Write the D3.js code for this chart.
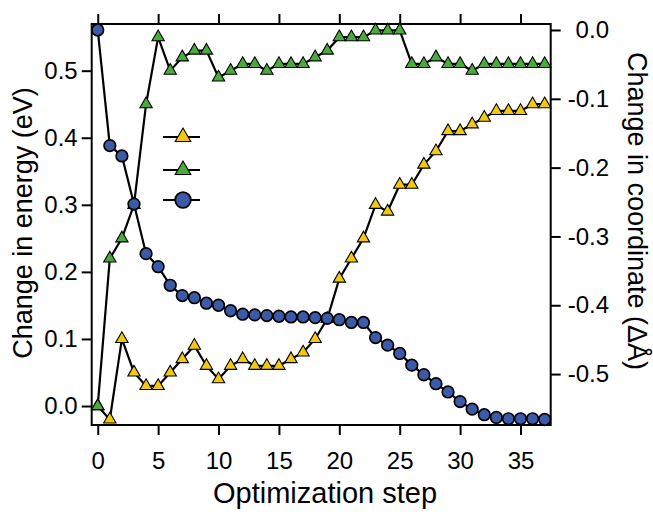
<!DOCTYPE html>
<html lang="en">
<head>
  <meta charset="UTF-8">
  <title>Optimization step chart</title>
  <script src="https://d3js.org/d3.v7.min.js"></script>
  <style>
    body {
      margin: 0;
      background: #fff;
      font-family: "Liberation Sans", Arial, sans-serif;
    }
    .tick text {
      font-size: 24px;
      fill: #000;
    }
    .tick line {
      stroke: #000;
      stroke-width: 2px;
    }
    .title {
      font-size: 27px;
      fill: #000;
    }
  </style>
</head>
<body>
  <div id="chart"></div>

  <script>
    const steps = d3.range(0, 38);

    // energy (eV), left axis
    const yellowEnergy = [0.00, -0.02, 0.10, 0.05, 0.03, 0.03, 0.05, 0.07, 0.09, 0.06,
      0.04, 0.06, 0.07, 0.06, 0.06, 0.06, 0.07, 0.08, 0.10, 0.13,
      0.19, 0.22, 0.25, 0.30, 0.29, 0.33, 0.33, 0.36, 0.38, 0.41,
      0.41, 0.42, 0.43, 0.44, 0.44, 0.44, 0.45, 0.45];
    const greenEnergy = [0.00, 0.22, 0.25, 0.30, 0.45, 0.55, 0.50, 0.52, 0.53, 0.53,
      0.49, 0.50, 0.51, 0.51, 0.50, 0.51, 0.51, 0.51, 0.52, 0.53,
      0.55, 0.55, 0.55, 0.56, 0.56, 0.56, 0.51, 0.51, 0.52, 0.51,
      0.51, 0.50, 0.51, 0.51, 0.51, 0.51, 0.51, 0.51];
    // coordinate change (Å), right axis
    const blueCoord = [0.000, -0.168, -0.183, -0.253, -0.325, -0.344, -0.371, -0.386, -0.389, -0.397,
      -0.400, -0.408, -0.413, -0.414, -0.415, -0.416, -0.417, -0.417, -0.418, -0.419,
      -0.421, -0.425, -0.425, -0.447, -0.458, -0.470, -0.487, -0.501, -0.514, -0.526,
      -0.540, -0.551, -0.559, -0.563, -0.565, -0.565, -0.565, -0.566];

    const xTicks = [0, 5, 10, 15, 20, 25, 30, 35];
    const leftTicks = [0, 0.1, 0.2, 0.3, 0.4, 0.5];
    const rightTicks = [0, -0.1, -0.2, -0.3, -0.4, -0.5];

    const W = 653, H = 512;
    const plot = {left: 91.7, right: 550.7, top: 24, bottom: 425};

    const svg = d3.select("#chart")
      .append("svg")
      .attr("width", W)
      .attr("height", H);

    const x = d3.scaleLinear().domain([-0.5, 37.5]).range([plot.left, plot.right]);
    const yL = d3.scaleLinear().domain([-0.0283, 0.5696]).range([plot.bottom, plot.top]);
    const yR = d3.scaleLinear().domain([-0.574, 0.0087]).range([plot.bottom, plot.top]);

    // axes
    svg.append("g")
      .attr("transform", `translate(0,${plot.bottom})`)
      .call(d3.axisBottom(x).tickValues(xTicks).tickSize(10).tickPadding(17).tickSizeOuter(0))
      .call(g => g.select(".domain").remove());

    svg.append("g")
      .attr("transform", `translate(0,${plot.top})`)
      .call(d3.axisTop(x).tickValues(xTicks).tickSize(10).tickFormat("").tickSizeOuter(0))
      .call(g => g.select(".domain").remove());

    svg.append("g")
      .attr("transform", `translate(${plot.left},0)`)
      .call(d3.axisLeft(yL).tickValues(leftTicks).tickFormat(d3.format(".1f")).tickSize(10).tickPadding(4))
      .call(g => g.select(".domain").remove());

    const fmtR = d => d === 0 ? "0.0" : d3.format(".1f")(d).replace("−", "-");
    svg.append("g")
      .attr("transform", `translate(${plot.right},0)`)
      .call(d3.axisRight(yR).tickValues(rightTicks).tickFormat(fmtR).tickSize(10))
      .call(g => g.select(".domain").remove())
      .call(g => g.selectAll(".tick text")
        .attr("text-anchor", "end")
        .attr("x", 609 - plot.right));

    // frame
    svg.append("rect")
      .attr("x", plot.left)
      .attr("y", plot.top)
      .attr("width", plot.right - plot.left)
      .attr("height", plot.bottom - plot.top)
      .attr("fill", "none")
      .attr("stroke", "#000")
      .attr("stroke-width", 2);

    // titles
    svg.append("text")
      .attr("class", "title")
      .attr("x", 325)
      .attr("y", 503)
      .attr("text-anchor", "middle")
      .style("font-size", "29px")
      .text("Optimization step");

    svg.append("text")
      .attr("class", "title")
      .attr("transform", "translate(32,223) rotate(-90)")
      .attr("text-anchor", "middle")
      .text("Change in energy (eV)");

    svg.append("text")
      .attr("class", "title")
      .attr("transform", "translate(628,211) rotate(90)")
      .attr("text-anchor", "middle")
      .text("Change in coordinate (ΔÅ)");

    const yellow = "#f2c811", green = "#4aab3c", blue = "#3b5aa8";
    const triSmall = d3.symbol(d3.symbolTriangle, 66);
    const triBig = d3.symbol(d3.symbolTriangle, 105);

    function drawSeries(values, yScale, color, kind) {
      const pts = steps.map((s, i) => ({s, v: values[i]}));
      const g = svg.append("g");
      g.append("path")
        .datum(pts)
        .attr("fill", "none")
        .attr("stroke", "#000")
        .attr("stroke-width", 2.2)
        .attr("d", d3.line().x(d => x(d.s)).y(d => yScale(d.v)));
      if (kind === "circle") {
        g.selectAll("circle")
          .data(pts)
          .join("circle")
          .attr("cx", d => x(d.s))
          .attr("cy", d => yScale(d.v))
          .attr("r", 5.8)
          .attr("fill", color)
          .attr("stroke", "#000")
          .attr("stroke-width", 1.7);
      } else {
        g.selectAll("path.m")
          .data(pts)
          .join("path")
          .attr("class", "m")
          .attr("transform", d => `translate(${x(d.s)},${yScale(d.v)})`)
          .attr("d", triSmall)
          .attr("fill", color)
          .attr("stroke", "#000")
          .attr("stroke-width", 1.1);
      }
    }

    drawSeries(yellowEnergy, yL, yellow, "tri");
    drawSeries(greenEnergy, yL, green, "tri");
    drawSeries(blueCoord, yR, blue, "circle");

    // legend (markers only)
    const legend = [
      {color: yellow, kind: "tri", y: 137},
      {color: green, kind: "tri", y: 170},
      {color: blue, kind: "circle", y: 200}
    ];
    const lg = svg.append("g");
    legend.forEach(d => {
      lg.append("line")
        .attr("x1", 163).attr("x2", 200)
        .attr("y1", d.y).attr("y2", d.y)
        .attr("stroke", "#000")
        .attr("stroke-width", 2.2);
      if (d.kind === "circle") {
        lg.append("circle")
          .attr("cx", 183).attr("cy", d.y).attr("r", 7.8)
          .attr("fill", d.color).attr("stroke", "#000").attr("stroke-width", 1.8);
      } else {
        lg.append("path")
          .attr("transform", `translate(183,${d.y})`)
          .attr("d", triBig)
          .attr("fill", d.color).attr("stroke", "#000").attr("stroke-width", 1.1);
      }
    });
  </script>
</body>
</html>
